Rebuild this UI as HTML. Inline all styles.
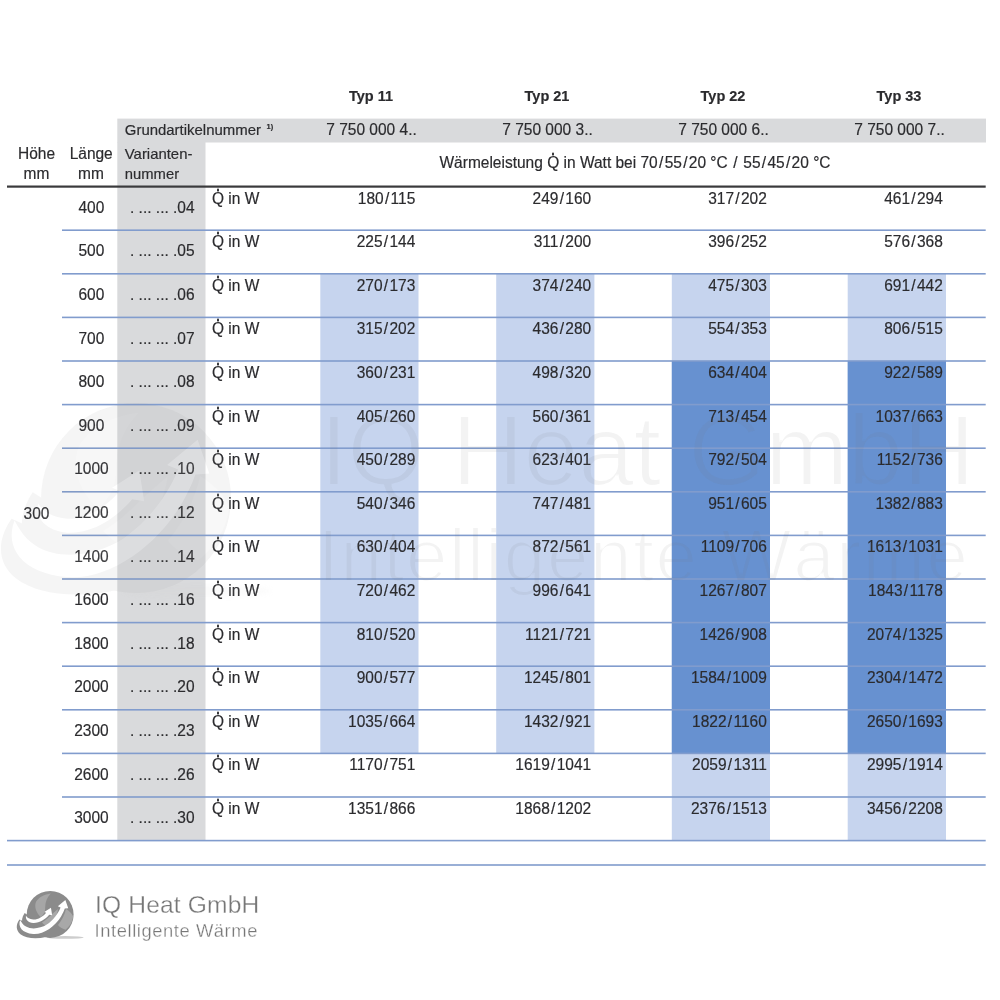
<!DOCTYPE html><html lang="de"><head><meta charset="utf-8"><title>Heizk&ouml;rper W&auml;rmeleistung</title><style>
html,body{margin:0;padding:0;background:#fff}
body{width:1000px;height:1000px;position:relative;overflow:hidden;font-family:"Liberation Sans",sans-serif;color:#2b2b2e;font-size:15.5px;line-height:1}
.a{position:absolute;white-space:nowrap}
.r{position:absolute}
.t{position:absolute;white-space:nowrap;line-height:20px;height:20px;transform:scaleY(1.03);transform-origin:0 15.4px;-webkit-text-stroke:0.18px #2b2b2e}
.b{font-weight:bold;font-size:14.5px}
.c{text-align:center}
.rt{text-align:right}
.s{margin:0 1.3px}
.q{position:relative;display:inline-block}
.q i{position:absolute;left:50%;margin-left:-1.3px;top:0.4px;width:2.6px;height:2.6px;border-radius:50%;background:#2b2b2e}

</style></head><body>
<svg class="r" style="left:0;top:0" width="1000" height="1000">
<rect x="117.30" y="118.60" width="868.70" height="23.90" fill="#d9dadc"/>
<rect x="117.30" y="142.00" width="88.20" height="698.60" fill="#d9dadc"/>
<rect x="320.30" y="273.80" width="98.20" height="479.60" fill="#c6d4ee"/>
<rect x="496.20" y="273.80" width="98.20" height="479.60" fill="#c6d4ee"/>
<rect x="671.80" y="273.80" width="98.20" height="566.80" fill="#c6d4ee"/>
<rect x="847.70" y="273.80" width="98.30" height="566.80" fill="#c6d4ee"/>
<rect x="671.80" y="361.00" width="98.20" height="392.40" fill="#6791d0"/>
<rect x="847.70" y="361.00" width="98.30" height="392.40" fill="#6791d0"/>
<rect x="62.00" y="229.40" width="923.70" height="1.60" fill="#819ccd"/>
<rect x="62.00" y="273.00" width="923.70" height="1.60" fill="#819ccd"/>
<rect x="62.00" y="316.60" width="923.70" height="1.60" fill="#819ccd"/>
<rect x="62.00" y="360.20" width="923.70" height="1.60" fill="#819ccd"/>
<rect x="62.00" y="403.80" width="923.70" height="1.60" fill="#819ccd"/>
<rect x="62.00" y="447.40" width="923.70" height="1.60" fill="#819ccd"/>
<rect x="62.00" y="491.00" width="923.70" height="1.60" fill="#819ccd"/>
<rect x="62.00" y="534.60" width="923.70" height="1.60" fill="#819ccd"/>
<rect x="62.00" y="578.20" width="923.70" height="1.60" fill="#819ccd"/>
<rect x="62.00" y="621.80" width="923.70" height="1.60" fill="#819ccd"/>
<rect x="62.00" y="665.40" width="923.70" height="1.60" fill="#819ccd"/>
<rect x="62.00" y="709.00" width="923.70" height="1.60" fill="#819ccd"/>
<rect x="62.00" y="752.60" width="923.70" height="1.60" fill="#819ccd"/>
<rect x="62.00" y="796.20" width="923.70" height="1.60" fill="#819ccd"/>
<rect x="7.00" y="839.80" width="978.70" height="1.60" fill="#819ccd"/>
<rect x="7.00" y="864.20" width="978.70" height="1.60" fill="#819ccd"/>
<rect x="7.00" y="185.50" width="978.70" height="2.20" fill="#3a3a3c"/>
</svg>
<div id="tx" style="position:absolute;left:0;top:0;width:1000px;height:1000px;will-change:transform">
<div class="t c b" style="left:71.0px;width:600px;top:85.98px;">Typ 11</div>
<div class="t c b" style="left:247.0px;width:600px;top:85.98px;">Typ 21</div>
<div class="t c b" style="left:423.0px;width:600px;top:85.98px;">Typ 22</div>
<div class="t c b" style="left:599.0px;width:600px;top:85.98px;">Typ 33</div>
<div class="t " style="left:124.8px;top:119.82px;font-size:14.95px;">Grundartikelnummer <span style="font-size:7.5px;position:relative;top:-6px;left:1.5px;font-weight:bold">1)</span></div>
<div class="t c " style="left:71.5px;width:600px;top:119.63px;">7 750 000 4..</div>
<div class="t c " style="left:247.5px;width:600px;top:119.63px;">7 750 000 3..</div>
<div class="t c " style="left:423.5px;width:600px;top:119.63px;">7 750 000 6..</div>
<div class="t c " style="left:599.5px;width:600px;top:119.63px;">7 750 000 7..</div>
<div class="t c " style="left:-263.5px;width:600px;top:144.43px;">Höhe</div>
<div class="t c " style="left:-263.5px;width:600px;top:163.63px;">mm</div>
<div class="t c " style="left:-208.8px;width:600px;top:144.43px;">Länge</div>
<div class="t c " style="left:-209.0px;width:600px;top:163.63px;">mm</div>
<div class="t " style="left:124.8px;top:144.14px;font-size:14.9px;">Varianten-</div>
<div class="t " style="left:124.8px;top:164.17px;font-size:14.8px;">nummer</div>
<div class="t c " style="left:335.0px;width:600px;top:153.43px;">Wärmeleistung <span class="q">Q<i></i></span> in Watt bei 70<span class="s">/</span>55<span class="s">/</span>20 °C <span class="s">/</span> 55<span class="s">/</span>45<span class="s">/</span>20 °C</div>
<div class="t c " style="left:-263.5px;width:600px;top:503.63px;">300</div>
<div class="t c " style="left:-208.6px;width:600px;top:197.73px;">400</div>
<div class="t rt " style="left:-105.4px;width:300px;top:197.73px;">. ... ... .04</div>
<div class="t " style="left:212.0px;top:188.53px;"><span class="q">Q<i></i></span> in W</div>
<div class="t rt " style="left:115.3px;width:300px;top:188.53px;">180<span class="s">/</span>115</div>
<div class="t rt " style="left:291.2px;width:300px;top:188.53px;">249<span class="s">/</span>160</div>
<div class="t rt " style="left:466.8px;width:300px;top:188.53px;">317<span class="s">/</span>202</div>
<div class="t rt " style="left:642.8px;width:300px;top:188.53px;">461<span class="s">/</span>294</div>
<div class="t c " style="left:-208.6px;width:600px;top:241.33px;">500</div>
<div class="t rt " style="left:-105.4px;width:300px;top:241.33px;">. ... ... .05</div>
<div class="t " style="left:212.0px;top:232.13px;"><span class="q">Q<i></i></span> in W</div>
<div class="t rt " style="left:115.3px;width:300px;top:232.13px;">225<span class="s">/</span>144</div>
<div class="t rt " style="left:291.2px;width:300px;top:232.13px;">311<span class="s">/</span>200</div>
<div class="t rt " style="left:466.8px;width:300px;top:232.13px;">396<span class="s">/</span>252</div>
<div class="t rt " style="left:642.8px;width:300px;top:232.13px;">576<span class="s">/</span>368</div>
<div class="t c " style="left:-208.6px;width:600px;top:284.93px;">600</div>
<div class="t rt " style="left:-105.4px;width:300px;top:284.93px;">. ... ... .06</div>
<div class="t " style="left:212.0px;top:275.73px;"><span class="q">Q<i></i></span> in W</div>
<div class="t rt " style="left:115.3px;width:300px;top:275.73px;">270<span class="s">/</span>173</div>
<div class="t rt " style="left:291.2px;width:300px;top:275.73px;">374<span class="s">/</span>240</div>
<div class="t rt " style="left:466.8px;width:300px;top:275.73px;">475<span class="s">/</span>303</div>
<div class="t rt " style="left:642.8px;width:300px;top:275.73px;">691<span class="s">/</span>442</div>
<div class="t c " style="left:-208.6px;width:600px;top:328.53px;">700</div>
<div class="t rt " style="left:-105.4px;width:300px;top:328.53px;">. ... ... .07</div>
<div class="t " style="left:212.0px;top:319.33px;"><span class="q">Q<i></i></span> in W</div>
<div class="t rt " style="left:115.3px;width:300px;top:319.33px;">315<span class="s">/</span>202</div>
<div class="t rt " style="left:291.2px;width:300px;top:319.33px;">436<span class="s">/</span>280</div>
<div class="t rt " style="left:466.8px;width:300px;top:319.33px;">554<span class="s">/</span>353</div>
<div class="t rt " style="left:642.8px;width:300px;top:319.33px;">806<span class="s">/</span>515</div>
<div class="t c " style="left:-208.6px;width:600px;top:372.13px;">800</div>
<div class="t rt " style="left:-105.4px;width:300px;top:372.13px;">. ... ... .08</div>
<div class="t " style="left:212.0px;top:362.93px;"><span class="q">Q<i></i></span> in W</div>
<div class="t rt " style="left:115.3px;width:300px;top:362.93px;">360<span class="s">/</span>231</div>
<div class="t rt " style="left:291.2px;width:300px;top:362.93px;">498<span class="s">/</span>320</div>
<div class="t rt " style="left:466.8px;width:300px;top:362.93px;">634<span class="s">/</span>404</div>
<div class="t rt " style="left:642.8px;width:300px;top:362.93px;">922<span class="s">/</span>589</div>
<div class="t c " style="left:-208.6px;width:600px;top:415.73px;">900</div>
<div class="t rt " style="left:-105.4px;width:300px;top:415.73px;">. ... ... .09</div>
<div class="t " style="left:212.0px;top:406.53px;"><span class="q">Q<i></i></span> in W</div>
<div class="t rt " style="left:115.3px;width:300px;top:406.53px;">405<span class="s">/</span>260</div>
<div class="t rt " style="left:291.2px;width:300px;top:406.53px;">560<span class="s">/</span>361</div>
<div class="t rt " style="left:466.8px;width:300px;top:406.53px;">713<span class="s">/</span>454</div>
<div class="t rt " style="left:642.8px;width:300px;top:406.53px;">1037<span class="s">/</span>663</div>
<div class="t c " style="left:-208.6px;width:600px;top:459.33px;">1000</div>
<div class="t rt " style="left:-105.4px;width:300px;top:459.33px;">. ... ... .10</div>
<div class="t " style="left:212.0px;top:450.13px;"><span class="q">Q<i></i></span> in W</div>
<div class="t rt " style="left:115.3px;width:300px;top:450.13px;">450<span class="s">/</span>289</div>
<div class="t rt " style="left:291.2px;width:300px;top:450.13px;">623<span class="s">/</span>401</div>
<div class="t rt " style="left:466.8px;width:300px;top:450.13px;">792<span class="s">/</span>504</div>
<div class="t rt " style="left:642.8px;width:300px;top:450.13px;">1152<span class="s">/</span>736</div>
<div class="t c " style="left:-208.6px;width:600px;top:502.93px;">1200</div>
<div class="t rt " style="left:-105.4px;width:300px;top:502.93px;">. ... ... .12</div>
<div class="t " style="left:212.0px;top:493.73px;"><span class="q">Q<i></i></span> in W</div>
<div class="t rt " style="left:115.3px;width:300px;top:493.73px;">540<span class="s">/</span>346</div>
<div class="t rt " style="left:291.2px;width:300px;top:493.73px;">747<span class="s">/</span>481</div>
<div class="t rt " style="left:466.8px;width:300px;top:493.73px;">951<span class="s">/</span>605</div>
<div class="t rt " style="left:642.8px;width:300px;top:493.73px;">1382<span class="s">/</span>883</div>
<div class="t c " style="left:-208.6px;width:600px;top:546.53px;">1400</div>
<div class="t rt " style="left:-105.4px;width:300px;top:546.53px;">. ... ... .14</div>
<div class="t " style="left:212.0px;top:537.33px;"><span class="q">Q<i></i></span> in W</div>
<div class="t rt " style="left:115.3px;width:300px;top:537.33px;">630<span class="s">/</span>404</div>
<div class="t rt " style="left:291.2px;width:300px;top:537.33px;">872<span class="s">/</span>561</div>
<div class="t rt " style="left:466.8px;width:300px;top:537.33px;">1109<span class="s">/</span>706</div>
<div class="t rt " style="left:642.8px;width:300px;top:537.33px;">1613<span class="s">/</span>1031</div>
<div class="t c " style="left:-208.6px;width:600px;top:590.13px;">1600</div>
<div class="t rt " style="left:-105.4px;width:300px;top:590.13px;">. ... ... .16</div>
<div class="t " style="left:212.0px;top:580.93px;"><span class="q">Q<i></i></span> in W</div>
<div class="t rt " style="left:115.3px;width:300px;top:580.93px;">720<span class="s">/</span>462</div>
<div class="t rt " style="left:291.2px;width:300px;top:580.93px;">996<span class="s">/</span>641</div>
<div class="t rt " style="left:466.8px;width:300px;top:580.93px;">1267<span class="s">/</span>807</div>
<div class="t rt " style="left:642.8px;width:300px;top:580.93px;">1843<span class="s">/</span>1178</div>
<div class="t c " style="left:-208.6px;width:600px;top:633.73px;">1800</div>
<div class="t rt " style="left:-105.4px;width:300px;top:633.73px;">. ... ... .18</div>
<div class="t " style="left:212.0px;top:624.53px;"><span class="q">Q<i></i></span> in W</div>
<div class="t rt " style="left:115.3px;width:300px;top:624.53px;">810<span class="s">/</span>520</div>
<div class="t rt " style="left:291.2px;width:300px;top:624.53px;">1121<span class="s">/</span>721</div>
<div class="t rt " style="left:466.8px;width:300px;top:624.53px;">1426<span class="s">/</span>908</div>
<div class="t rt " style="left:642.8px;width:300px;top:624.53px;">2074<span class="s">/</span>1325</div>
<div class="t c " style="left:-208.6px;width:600px;top:677.33px;">2000</div>
<div class="t rt " style="left:-105.4px;width:300px;top:677.33px;">. ... ... .20</div>
<div class="t " style="left:212.0px;top:668.13px;"><span class="q">Q<i></i></span> in W</div>
<div class="t rt " style="left:115.3px;width:300px;top:668.13px;">900<span class="s">/</span>577</div>
<div class="t rt " style="left:291.2px;width:300px;top:668.13px;">1245<span class="s">/</span>801</div>
<div class="t rt " style="left:466.8px;width:300px;top:668.13px;">1584<span class="s">/</span>1009</div>
<div class="t rt " style="left:642.8px;width:300px;top:668.13px;">2304<span class="s">/</span>1472</div>
<div class="t c " style="left:-208.6px;width:600px;top:720.93px;">2300</div>
<div class="t rt " style="left:-105.4px;width:300px;top:720.93px;">. ... ... .23</div>
<div class="t " style="left:212.0px;top:711.73px;"><span class="q">Q<i></i></span> in W</div>
<div class="t rt " style="left:115.3px;width:300px;top:711.73px;">1035<span class="s">/</span>664</div>
<div class="t rt " style="left:291.2px;width:300px;top:711.73px;">1432<span class="s">/</span>921</div>
<div class="t rt " style="left:466.8px;width:300px;top:711.73px;">1822<span class="s">/</span>1160</div>
<div class="t rt " style="left:642.8px;width:300px;top:711.73px;">2650<span class="s">/</span>1693</div>
<div class="t c " style="left:-208.6px;width:600px;top:764.53px;">2600</div>
<div class="t rt " style="left:-105.4px;width:300px;top:764.53px;">. ... ... .26</div>
<div class="t " style="left:212.0px;top:755.33px;"><span class="q">Q<i></i></span> in W</div>
<div class="t rt " style="left:115.3px;width:300px;top:755.33px;">1170<span class="s">/</span>751</div>
<div class="t rt " style="left:291.2px;width:300px;top:755.33px;">1619<span class="s">/</span>1041</div>
<div class="t rt " style="left:466.8px;width:300px;top:755.33px;">2059<span class="s">/</span>1311</div>
<div class="t rt " style="left:642.8px;width:300px;top:755.33px;">2995<span class="s">/</span>1914</div>
<div class="t c " style="left:-208.6px;width:600px;top:808.13px;">3000</div>
<div class="t rt " style="left:-105.4px;width:300px;top:808.13px;">. ... ... .30</div>
<div class="t " style="left:212.0px;top:798.93px;"><span class="q">Q<i></i></span> in W</div>
<div class="t rt " style="left:115.3px;width:300px;top:798.93px;">1351<span class="s">/</span>866</div>
<div class="t rt " style="left:291.2px;width:300px;top:798.93px;">1868<span class="s">/</span>1202</div>
<div class="t rt " style="left:466.8px;width:300px;top:798.93px;">2376<span class="s">/</span>1513</div>
<div class="t rt " style="left:642.8px;width:300px;top:798.93px;">3456<span class="s">/</span>2208</div>
</div>
<svg width="0" height="0" style="position:absolute"><defs><filter id="bl" x="-20%" y="-300%" width="140%" height="700%"><feGaussianBlur stdDeviation="8"/></filter><filter id="er" x="0" y="0" width="100%" height="100%"><feMorphology operator="erode" radius="1.1"/></filter><symbol id="lg" viewBox="0 0 1000 750"><ellipse cx="690" cy="655" rx="230" ry="18" fill="#cdcdcd" filter="url(#bl)"/><path d="M118,432 C70,500 75,570 130,615 C200,670 330,678 450,650 L480,560 L200,470 Z" fill="#8b8b8b"/><circle cx="502" cy="368" r="293" fill="#8b8b8b"/><path d="M183,350 C150,400 140,450 160,500 L260,560 L330,480 L230,380 Z" fill="#8b8b8b"/><path d="M325,210 C360,150 430,115 510,105 C465,150 440,210 440,280 C440,330 425,365 385,400 C330,350 300,280 325,210Z" fill="#a6a6a6"/><path d="M700,300 C740,325 772,355 790,395 C782,465 745,520 695,560 C650,545 620,525 600,500 C650,440 680,380 700,300Z" fill="#a8a8a8"/><path d="M400,470 C450,440 490,400 520,370 L600,300 C590,380 540,470 470,520 C440,510 420,490 400,470Z" fill="#a8a8a8"/><path d="M127,437 C95,520 150,600 290,612 C420,620 560,520 640,390 C660,355 675,325 685,295 L728,292 L692,188 L598,266 L632,280 C600,360 540,440 460,495 C380,545 270,560 200,520 C160,495 145,470 127,437 Z" fill="#fff"/><path d="M200,385 C190,430 225,470 290,475 C370,478 440,430 490,372 L527,378 L512,283 L428,336 L452,346 C410,395 350,435 290,432 C245,428 215,410 200,385 Z" fill="#fff"/></symbol></defs></svg>
<svg class="r" style="left:10px;top:885px" width="80" height="60"><use href="#lg" width="80" height="60"/></svg>
<svg class="r" style="left:0;top:880px" width="300" height="80" font-family="Liberation Sans, sans-serif" fill="#777777" stroke="#fff" stroke-width="0.3"><text x="95" y="32.60000000000002" font-size="24.6" textLength="164.3" lengthAdjust="spacing">IQ Heat GmbH</text><text x="94.6" y="56.700000000000045" font-size="18.4" textLength="162.8" lengthAdjust="spacing">Intelligente Wärme</text></svg>
<svg class="r" style="left:0;top:370px;opacity:0.088" width="1000" height="260" font-family="Liberation Sans, sans-serif" fill="#777777"><use href="#lg" x="-26.6" y="8.8" width="324.0" height="243.0"/><text x="320" y="114.5" font-size="99.6" textLength="655" lengthAdjust="spacing" filter="url(#er)">IQ Heat GmbH</text><text x="318" filter="url(#er)" y="211" font-size="74.5" textLength="650" lengthAdjust="spacing">Intelligente Wärme</text></svg>
</body></html>
